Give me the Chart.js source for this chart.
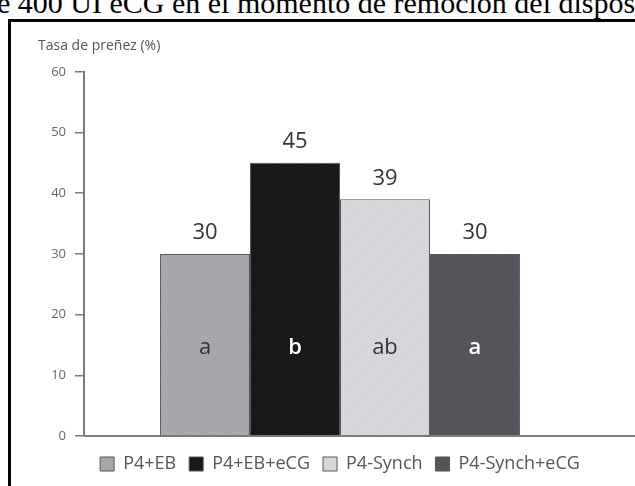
<!DOCTYPE html>
<html lang="es">
<head>
<meta charset="utf-8">
<title>Tasa de preñez</title>
<script src="https://cdn.jsdelivr.net/npm/chart.js@4.4.1/dist/chart.umd.min.js"></script>
<style>
  html, body { margin: 0; padding: 0; background: #fff; overflow: hidden; }
  #wrap { position: relative; width: 635px; height: 486px; overflow: hidden; }
  #caption {
    position: absolute; left: -3px; top: -12px;
    font-family: "Liberation Serif", "DejaVu Serif", serif;
    font-size: 30px; line-height: 29px; color: #000; white-space: nowrap;
  }
  #frame {
    position: absolute; left: 8px; top: 19px; width: 700px; height: 600px;
    border-left: 3px solid #000; border-top: 3px solid #000;
    pointer-events: none; z-index: 2;
  }
  #chartBox { position: absolute; left: 0; top: 0; width: 635px; height: 486px; }
</style>
</head>
<body>
<div id="wrap">
  <div id="caption">e 400 UI eCG en el momento de remoción del dispositivo</div>
  <div id="frame"></div>
  <div id="chartBox"><canvas id="chart"></canvas></div>
</div>
<script>
// Treatments, pregnancy rate (%) and significance letters
const treatments = ['P4+EB', 'P4+EB+eCG', 'P4-Synch', 'P4-Synch+eCG'];
const pregnancyRate = [30, 45, 39, 30];
const groupLetters = ['a', 'b', 'ab', 'a'];
const yTicks = [0, 10, 20, 30, 40, 50, 60];

// Fill colours (base, speckle) for each treatment and the colour of its letter
const fillColors = [['#acacb1', '#9a9aa0'], ['#141416', '#222226'], ['#dcdce0', '#cbcbd0'], ['#5a5a61', '#4a4a50']];
const letterColors = ['#333333', '#ffffff', '#333333', '#ffffff'];
const letterWeights = ['normal', '600', 'normal', '600'];

const FONT = '"Open Sans", "Noto Sans", sans-serif';
const AXIS_GRAY = '#7a7a7a';

// Fine speckled fill, like a printed halftone
function speckle(base, dot) {
  const c = document.createElement('canvas');
  c.width = 3; c.height = 3;
  const g = c.getContext('2d');
  g.fillStyle = base; g.fillRect(0, 0, 3, 3);
  g.fillStyle = dot;
  g.fillRect(0, 0, 1, 1); g.fillRect(2, 1, 1, 1); g.fillRect(1, 2, 1, 1);
  return g.createPattern(c, 'repeat');
}

// Value labels above each bar and letters inside the bars,
// plus the base line that runs to the right edge.
const annotate = {
  id: 'annotate',
  afterDatasetsDraw(chart) {
    const { ctx, chartArea } = chart;
    const y = chart.scales.y;
    const base = y.getPixelForValue(0);
    ctx.save();
    ctx.strokeStyle = AXIS_GRAY;
    ctx.lineWidth = 2;
    ctx.beginPath();
    ctx.moveTo(chartArea.left, base);
    ctx.lineTo(chart.width, base);
    ctx.stroke();

    ctx.textAlign = 'center';
    ctx.textBaseline = 'middle';
    chart.data.datasets.forEach((ds, i) => {
      const bar = chart.getDatasetMeta(i).data[0];
      ctx.fillStyle = '#333';
      ctx.font = '22px ' + FONT;
      ctx.fillText(String(ds.data[0]), bar.x, bar.y - 21);
      ctx.fillStyle = letterColors[i];
      ctx.font = letterWeights[i] + ' 22px ' + FONT;
      ctx.fillText(groupLetters[i], bar.x, chartArea.bottom - 88);
    });
    ctx.restore();
  }
};

const datasets = treatments.map((name, i) => ({
  label: name,
  data: [pregnancyRate[i]],
  backgroundColor: speckle(fillColors[i][0], fillColors[i][1]),
  borderColor: '#555559',
  borderWidth: 1,
  barPercentage: 1,
  categoryPercentage: 0.703
}));

new Chart(document.getElementById('chart'), {
  type: 'bar',
  data: { labels: [''], datasets },
  options: {
    responsive: true,
    maintainAspectRatio: false,
    animation: false,
    layout: { padding: { left: 38, right: 39, top: 29, bottom: 3 } },
    plugins: {
      tooltip: { enabled: false },
      title: {
        display: true,
        text: 'Tasa de preñez (%)',
        align: 'start',
        color: '#555',
        font: { family: FONT, size: 14, weight: 'normal' },
        padding: { top: 9, bottom: 17 }
      },
      legend: {
        position: 'bottom',
        fullSize: false,
        labels: {
          color: '#555',
          font: { family: FONT, size: 18 },
          boxWidth: 14,
          boxHeight: 14,
          padding: 13
        }
      }
    },
    scales: {
      x: {
        display: true,
        grid: { display: false },
        border: { display: false },
        ticks: { display: false },
        afterFit(scale) { scale.height = 6; }
      },
      y: {
        min: 0,
        max: 60,
        afterFit(scale) { scale.width = 46; },
        afterBuildTicks(scale) { scale.ticks = yTicks.map(v => ({ value: v })); },
        border: { display: true, color: AXIS_GRAY, width: 2 },
        grid: { display: true, drawOnChartArea: false, drawTicks: true, tickLength: 9, color: AXIS_GRAY, lineWidth: 1.5 },
        ticks: { color: '#666', padding: 9, font: { family: FONT, size: 13 } }
      }
    }
  },
  plugins: [annotate]
});
</script>
</body>
</html>
